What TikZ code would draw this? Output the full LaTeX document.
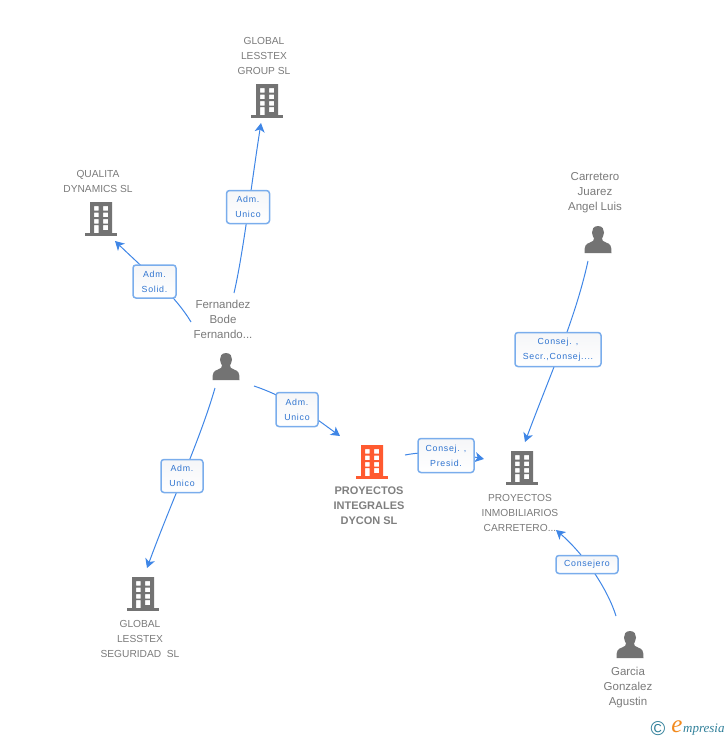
\documentclass[tikz,border=0pt]{standalone}
\usepackage{fontspec}
\setmainfont{Liberation Sans}
\newfontfamily\logofont{Liberation Serif}
\newfontfamily\boxfont[LetterSpace=8]{Liberation Sans}
\usetikzlibrary{arrows.meta}
\definecolor{icongray}{HTML}{737373}
\definecolor{textgray}{HTML}{7A7A7A}
\definecolor{boldgray}{HTML}{7F7F7F}
\definecolor{iconorange}{HTML}{FF5A30}
\definecolor{linkblue}{HTML}{3F86E6}
\definecolor{labelblue}{HTML}{2F74D0}
\definecolor{boxblue}{HTML}{7AADEC}
\definecolor{boxtop}{HTML}{F5F6F8}
\definecolor{logoteal}{HTML}{2F7F99}
\definecolor{logoorange}{HTML}{F28A1E}
\tikzset{
  x=1pt,y=-1pt,
  caption/.style={align=center,text=textgray,font=\fontsize{10.2}{15}\selectfont,inner sep=0pt},
  captionmixed/.style={align=center,text=textgray,font=\fontsize{11.5}{15}\selectfont,inner sep=0pt},
  captionbold/.style={align=center,text=boldgray,font=\bfseries\fontsize{11}{15}\selectfont,inner sep=0pt},
  linkbox/.style={draw=boxblue,line width=1.5pt,rounded corners=3pt,top color=boxtop,bottom color=white,align=center,text=labelblue,
    font=\boxfont\fontsize{8.8}{15}\selectfont,inner sep=0pt},
  link/.style={draw=linkblue,line width=1pt},
  linkarrow/.style={link,-{Stealth[length=9pt,width=10pt,inset=2.5pt]}},
}
% building icon centred at (x,y): #1 name, #2 position, #3 colour
\newcommand{\bldg}[3]{%
  \begin{scope}[shift={#2}]
    \coordinate (#1) at (0,0);
    \fill[#3,even odd rule] (-11,-17) rectangle (11,15)
      (-7,-13) rectangle (-2.5,-8.5) (2,-13) rectangle (7,-8.5)
      (-7,-6.5) rectangle (-2.5,-2) (2,-6.5) rectangle (7,-2)
      (-7,0) rectangle (-2.5,4.5) (2,0) rectangle (7,4.5)
      (-7,6) rectangle (-2.5,15) (2,6) rectangle (7,11);
    \fill[#3] (-16,14) rectangle (16,17);
  \end{scope}}
% person icon centred at (x,y)
\newcommand{\persona}[2]{%
  \begin{scope}[shift={#2}]
    \coordinate (#1) at (0,0);
    \fill[icongray] (0,-14) .. controls (-4.5,-14) and (-6.2,-10.5) .. (-6,-7.5)
      .. controls (-5.8,-4.5) and (-4.5,-2.5) .. (-4,-1.5)
      .. controls (-4,0.5) and (-5,1.5) .. (-8,2.5)
      .. controls (-12.5,4) and (-13.5,5.5) .. (-13.5,13) -- (13.5,13)
      .. controls (13.5,5.5) and (12.5,4) .. (8,2.5)
      .. controls (5,1.5) and (4,0.5) .. (4,-1.5)
      .. controls (4.5,-2.5) and (5.8,-4.5) .. (6,-7.5)
      .. controls (6.2,-10.5) and (4.5,-14) .. (0,-14) -- cycle;
  \end{scope}}
\begin{document}
\begin{tikzpicture}
\useasboundingbox (0,0) rectangle (728,740);
% icons
\bldg{bgroup}{(267,101)}{icongray}
\bldg{bqualita}{(101,219)}{icongray}
\bldg{bdycon}{(372,462)}{iconorange}
\bldg{binmo}{(522,468)}{icongray}
\bldg{bseg}{(143,594)}{icongray}
\persona{pfer}{(226,367)}
\persona{pcar}{(598,240)}
\persona{pgar}{(630,645)}
% captions
\node[caption] (tgroup) at (264,55.5) {GLOBAL\\LESSTEX\\GROUP SL};
\node[caption] (tqualita) at (98,181) {QUALITA\\DYNAMICS SL};
\node[captionmixed] (tfer) at (223,319) {Fernandez\\Bode\\Fernando...};
\node[captionbold] (tdycon) at (369,505.5) {PROYECTOS\\INTEGRALES\\DYCON SL};
\node[caption] (tinmo) at (520,513) {PROYECTOS\\INMOBILIARIOS\\CARRETERO...};
\node[caption] (tseg) at (140,639) {GLOBAL\\LESSTEX\\SEGURIDAD\ \ SL};
\node[captionmixed] (tcar) at (595,193) {Carretero\\Juarez\\Angel Luis};
\node[captionmixed] (tgar) at (628,688) {Garcia\\Gonzalez\\Agustin};
% connector ends
\coordinate (s1) at (234,293); \coordinate (e1) at (261,123);
\coordinate (s2) at (191,322); \coordinate (e2) at (115,241);
\coordinate (s3) at (254,386); \coordinate (e3) at (340,436);
\coordinate (s4) at (215,388); \coordinate (e4) at (147,568);
\coordinate (s5) at (405,455); \coordinate (e5) at (484,459);
\coordinate (s6) at (588,261); \coordinate (e6) at (525,442);
\coordinate (s7) at (616,616); \coordinate (e7) at (556,530);
% connectors
\draw[linkarrow] (s1) .. controls (243,255) and (252,180) .. (e1);
\draw[linkarrow] (s2) .. controls (175,295) and (145,270) .. (e2);
\draw[linkarrow] (s3) .. controls (290,398) and (315,418) .. (e3);
\draw[linkarrow] (s4) .. controls (200,440) and (172,500) .. (e4);
\draw[linkarrow] (s5) .. controls (430,450) and (460,454) .. (e5);
\draw[linkarrow] (s6) .. controls (575,320) and (550,375) .. (e6);
\draw[linkarrow] (s7) .. controls (608,590) and (585,555) .. (e7);
% connector labels
\node[linkbox,minimum width=43pt,minimum height=33pt] (l1) at (248,207) {Adm.\\Unico};
\node[linkbox,minimum width=43pt,minimum height=33pt] (l2) at (154.5,281.5) {Adm.\\Solid.};
\node[linkbox,minimum width=42pt,minimum height=34pt] (l3) at (297,409.5) {Adm.\\Unico};
\node[linkbox,minimum width=42pt,minimum height=33pt] (l4) at (182,476) {Adm.\\Unico};
\node[linkbox,minimum width=56pt,minimum height=34pt] (l5) at (446,455.5) {Consej. ,\\Presid.};
\node[linkbox,minimum width=86pt,minimum height=34pt] (l6) at (558,349.5) {Consej. ,\\Secr.,Consej....};
\node[linkbox,minimum width=62pt,minimum height=18pt] (l7) at (587,564.5) {Consejero};
% logo
\node[inner sep=0pt,text=logoteal,font=\fontsize{20}{20}\selectfont] (copy) at (658,729) {©};
\node[inner sep=0pt,text=logoorange,font=\logofont\itshape\fontsize{25}{25}\selectfont] (logoe) at (677,726.5) {e};
\node[inner sep=0pt,text=logoteal,anchor=west,font=\logofont\itshape\fontsize{13}{13}\selectfont] (logot) at (683,730) {mpresia};
\end{tikzpicture}
\end{document}
